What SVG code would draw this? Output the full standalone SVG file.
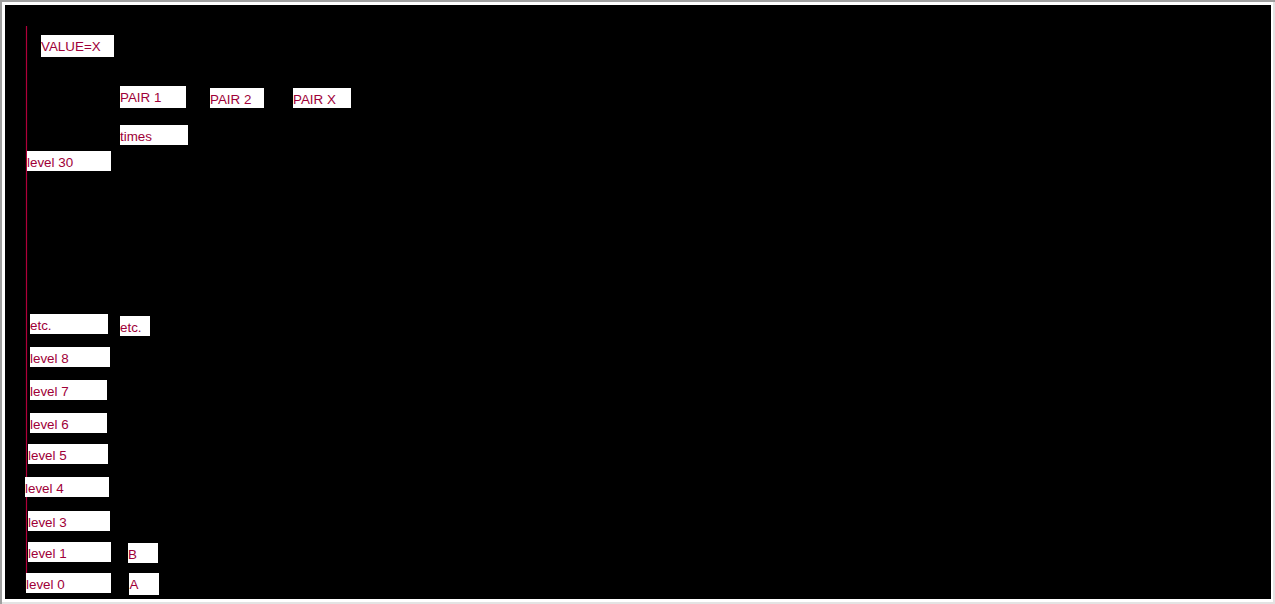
<svg xmlns="http://www.w3.org/2000/svg" width="1275" height="604" viewBox="0 0 1275 604">
<style>
.box{fill:#ffffff}
.lbl{font-family:"Liberation Sans",Arial,sans-serif;font-size:13.4px;fill:#a00038}
</style>
<rect x="0" y="0" width="1275" height="604" fill="#ffffff"/>
<rect x="0" y="0" width="1275" height="2" fill="#a0a0a0"/>
<rect x="0" y="0" width="2" height="604" fill="#a0a0a0"/>
<rect x="1273" y="2" width="2" height="602" fill="#e3e3e3"/>
<rect x="2" y="602" width="1273" height="2" fill="#e3e3e3"/>
<rect x="5" y="5" width="1266" height="594" fill="#000000"/>
<g id="connectors">
<line x1="26.5" y1="26" x2="26.5" y2="591" stroke="#b0003a" stroke-width="1.2"/>
</g>
<g id="value-x"><rect class="box" x="41" y="35" width="73" height="22"/><text class="lbl" x="41" y="51">VALUE=X</text></g>
<g id="pair-1"><rect class="box" x="120" y="86" width="66" height="22"/><text class="lbl" x="120" y="102">PAIR 1</text></g>
<g id="pair-2"><rect class="box" x="210" y="88" width="54" height="20"/><text class="lbl" x="210" y="104">PAIR 2</text></g>
<g id="pair-x"><rect class="box" x="293" y="88" width="58" height="20"/><text class="lbl" x="293" y="104">PAIR X</text></g>
<g id="times"><rect class="box" x="120" y="125" width="68" height="20"/><text class="lbl" x="120" y="141">times</text></g>
<g id="level-30"><rect class="box" x="27" y="151" width="84" height="20"/><text class="lbl" x="27" y="167">level 30</text></g>
<g id="etc-left"><rect class="box" x="30" y="314" width="78" height="20"/><text class="lbl" x="30" y="330">etc.</text></g>
<g id="etc-right"><rect class="box" x="120" y="316" width="30" height="20"/><text class="lbl" x="120" y="332">etc.</text></g>
<g id="level-8"><rect class="box" x="30" y="347" width="80" height="20"/><text class="lbl" x="30" y="363">level 8</text></g>
<g id="level-7"><rect class="box" x="30" y="380" width="77" height="20"/><text class="lbl" x="30" y="396">level 7</text></g>
<g id="level-6"><rect class="box" x="30" y="413" width="77" height="20"/><text class="lbl" x="30" y="429">level 6</text></g>
<g id="level-5"><rect class="box" x="28" y="444" width="80" height="20"/><text class="lbl" x="28" y="460">level 5</text></g>
<g id="level-4"><rect class="box" x="25" y="477" width="84" height="20"/><text class="lbl" x="25" y="493">level 4</text></g>
<g id="level-3"><rect class="box" x="28" y="511" width="82" height="20"/><text class="lbl" x="28" y="527">level 3</text></g>
<g id="level-1"><rect class="box" x="28" y="542" width="83" height="20"/><text class="lbl" x="28" y="558">level 1</text></g>
<g id="b"><rect class="box" x="128" y="543" width="30" height="20"/><text class="lbl" x="128" y="559">B</text></g>
<g id="level-0"><rect class="box" x="26" y="573" width="85" height="20"/><text class="lbl" x="26" y="589">level 0</text></g>
<g id="a"><rect class="box" x="129" y="573" width="30" height="22"/><text class="lbl" x="129.5" y="589">A</text></g>
</svg>
